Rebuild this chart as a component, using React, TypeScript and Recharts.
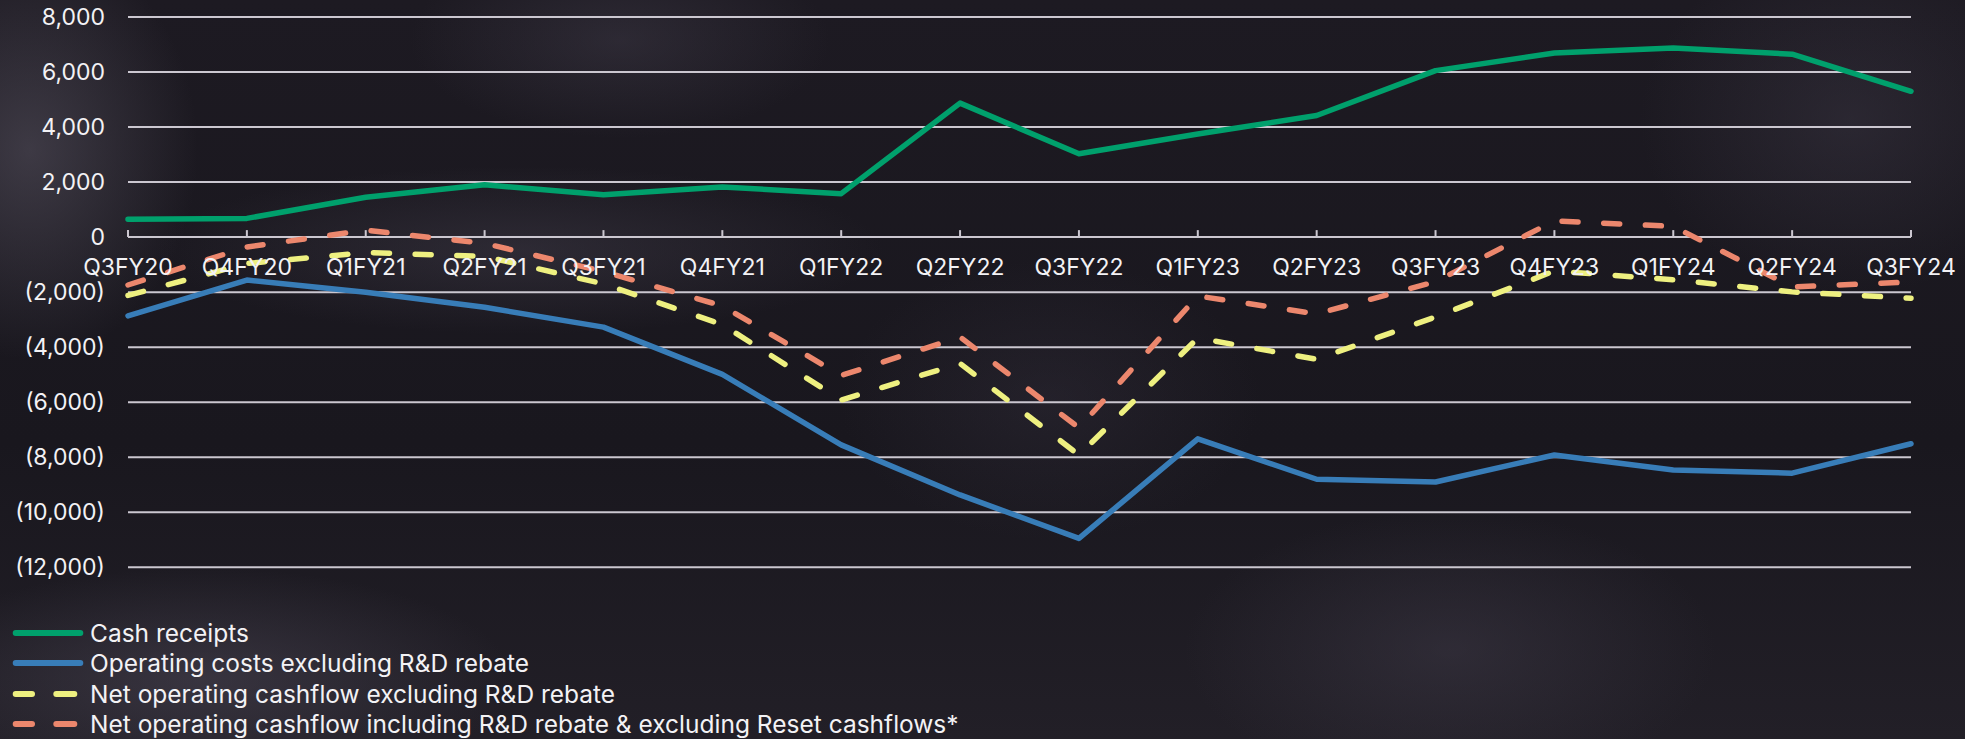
import React from 'react';
import { LineChart, Line, XAxis, YAxis, CartesianGrid, Legend } from 'recharts';

// quarters shown on the category axis (no Q4FY22 in the source)
const quarters = [
  'Q3FY20', 'Q4FY20', 'Q1FY21', 'Q2FY21', 'Q3FY21', 'Q4FY21', 'Q1FY22', 'Q2FY22',
  'Q3FY22', 'Q1FY23', 'Q2FY23', 'Q3FY23', 'Q4FY23', 'Q1FY24', 'Q2FY24', 'Q3FY24',
];

// values in $000
const cashReceipts = [650, 680, 1450, 1900, 1540, 1820, 1580, 4870, 3030, 3750, 4420, 6050, 6690, 6870, 6650, 5300];
const operatingCosts = [-2860, -1560, -2000, -2550, -3270, -4990, -7550, -9370, -10950, -7330, -8800, -8900, -7920, -8460, -8580, -7510];
const netExclRebate = [-2120, -960, -560, -700, -1700, -3180, -5920, -4590, -7920, -3670, -4440, -2900, -1230, -1550, -1990, -2220];
const netInclRebate = [-1740, -360, 250, -230, -1250, -2500, -5030, -3630, -6930, -2140, -2790, -1620, 590, 390, -1810, -1630];

const yTicks = [-12000, -10000, -8000, -6000, -4000, -2000, 0, 2000, 4000, 6000, 8000];

const seriesMeta = [
  { key: 'cash', name: 'Cash receipts', color: '#00a06c', dashed: false },
  { key: 'costs', name: 'Operating costs excluding R&D rebate', color: '#387db8', dashed: false },
  { key: 'netExcl', name: 'Net operating cashflow excluding R&D rebate', color: '#eef080', dashed: true },
  { key: 'netIncl', name: 'Net operating cashflow including R&D rebate & excluding Reset cashflows*', color: '#ec876d', dashed: true },
];

const data = quarters.map((q, i) => ({
  q,
  cash: cashReceipts[i],
  costs: operatingCosts[i],
  netExcl: netExclRebate[i],
  netIncl: netInclRebate[i],
}));

const W = 1965;
const H = 739;
const PLOT_TOP = 17;
const PLOT_BOTTOM = 567.3;
const PLOT_LEFT = 128;
const PLOT_RIGHT = 1911;
const X_AXIS_H = 30;
const Y_MIN = -12000;
const Y_MAX = 8000;
// the category axis sits on the zero line, not at the bottom
const ZERO_Y = PLOT_TOP + ((PLOT_BOTTOM - PLOT_TOP) * Y_MAX) / (Y_MAX - Y_MIN);

const TEXT = '#f3f2f5';
const GRID = '#cbc7d0';
const FONT = 'Inter, "Noto Sans", sans-serif';

const fmt = (v: number) => {
  if (v === 0) return '0';
  const s = Math.abs(v).toLocaleString('en-US');
  return v < 0 ? `(${s})` : s;
};

const QuarterTick = ({ x, payload }: any) => (
  <g>
    <line x1={x} x2={x} y1={ZERO_Y} y2={ZERO_Y - 7} stroke={GRID} strokeWidth={2} />
    <text x={x} y={ZERO_Y + 37.5} textAnchor="middle" fill={TEXT} fontSize={23} fontFamily={FONT}>
      {payload.value}
    </text>
  </g>
);

const LegendBox = () => (
  <div style={{ fontFamily: FONT, fontSize: 24.5, color: TEXT }}>
    {seriesMeta.map((s) => (
      <div key={s.key} style={{ display: 'flex', alignItems: 'center', height: 30.3, whiteSpace: 'nowrap' }}>
        <svg width={90} height={12} style={{ flex: 'none' }}>
          {s.dashed ? (
            <>
              <line x1={15.7} x2={32} y1={6} y2={6} stroke={s.color} strokeWidth={6} strokeLinecap="round" />
              <line x1={56.3} x2={74.3} y1={6} y2={6} stroke={s.color} strokeWidth={6} strokeLinecap="round" />
            </>
          ) : (
            <line x1={15.7} x2={80.3} y1={6} y2={6} stroke={s.color} strokeWidth={6} strokeLinecap="round" />
          )}
        </svg>
        <span>{s.name}</span>
      </div>
    ))}
  </div>
);

const background = [
  'radial-gradient(ellipse 240px 300px at 30px 150px, rgba(95,90,104,0.5), rgba(95,90,104,0) 70%)',
  'radial-gradient(ellipse 520px 120px at 520px 250px, rgba(80,75,90,0.35), rgba(80,75,90,0) 70%)',
  'radial-gradient(ellipse 300px 140px at 620px 40px, rgba(75,70,85,0.35), rgba(75,70,85,0) 70%)',
  'radial-gradient(ellipse 450px 160px at 200px 680px, rgba(80,75,90,0.5), rgba(80,75,90,0) 70%)',
  'radial-gradient(ellipse 380px 200px at 1450px 650px, rgba(70,65,80,0.4), rgba(70,65,80,0) 70%)',
  'radial-gradient(ellipse 300px 250px at 1850px 120px, rgba(70,65,80,0.35), rgba(70,65,80,0) 70%)',
  'radial-gradient(ellipse 300px 200px at 1050px 400px, rgba(60,55,70,0.3), rgba(60,55,70,0) 70%)',
  'linear-gradient(180deg, #1d1a22 0%, #19171e 60%, #221f27 100%)',
].join(', ');

export default function App() {
  return (
    <div style={{ position: 'absolute', left: 0, top: 0, width: W, height: H, background, overflow: 'hidden' }}>
      <LineChart
        width={W}
        height={H}
        data={data}
        margin={{ top: PLOT_TOP, right: W - PLOT_RIGHT, bottom: H - PLOT_BOTTOM - X_AXIS_H, left: 0 }}
      >
        <CartesianGrid vertical={false} stroke={GRID} strokeWidth={2} />
        <YAxis
          width={PLOT_LEFT}
          domain={[Y_MIN, Y_MAX]}
          ticks={yTicks}
          interval={0}
          axisLine={false}
          tickLine={false}
          tickSize={0}
          tickMargin={23}
          tickFormatter={fmt}
          tick={{ fill: TEXT, fontSize: 23, fontFamily: FONT }}
        />
        {seriesMeta.map((s) => (
          <Line
            key={s.key}
            type="linear"
            dataKey={s.key}
            name={s.name}
            stroke={s.color}
            strokeWidth={5.5}
            strokeDasharray={s.dashed ? '16 25.7' : undefined}
            strokeLinecap="round"
            strokeLinejoin="round"
            dot={false}
            activeDot={false}
            isAnimationActive={false}
          />
        ))}
        <XAxis
          dataKey="q"
          height={X_AXIS_H}
          interval={0}
          axisLine={false}
          tickLine={false}
          tick={<QuarterTick />}
        />
        <Legend
          layout="horizontal"
          verticalAlign="middle"
          align="center"
          wrapperStyle={{ position: 'absolute', left: 0, top: 618, width: 1200, height: 122 }}
          content={() => <LegendBox />}
        />
      </LineChart>
    </div>
  );
}
